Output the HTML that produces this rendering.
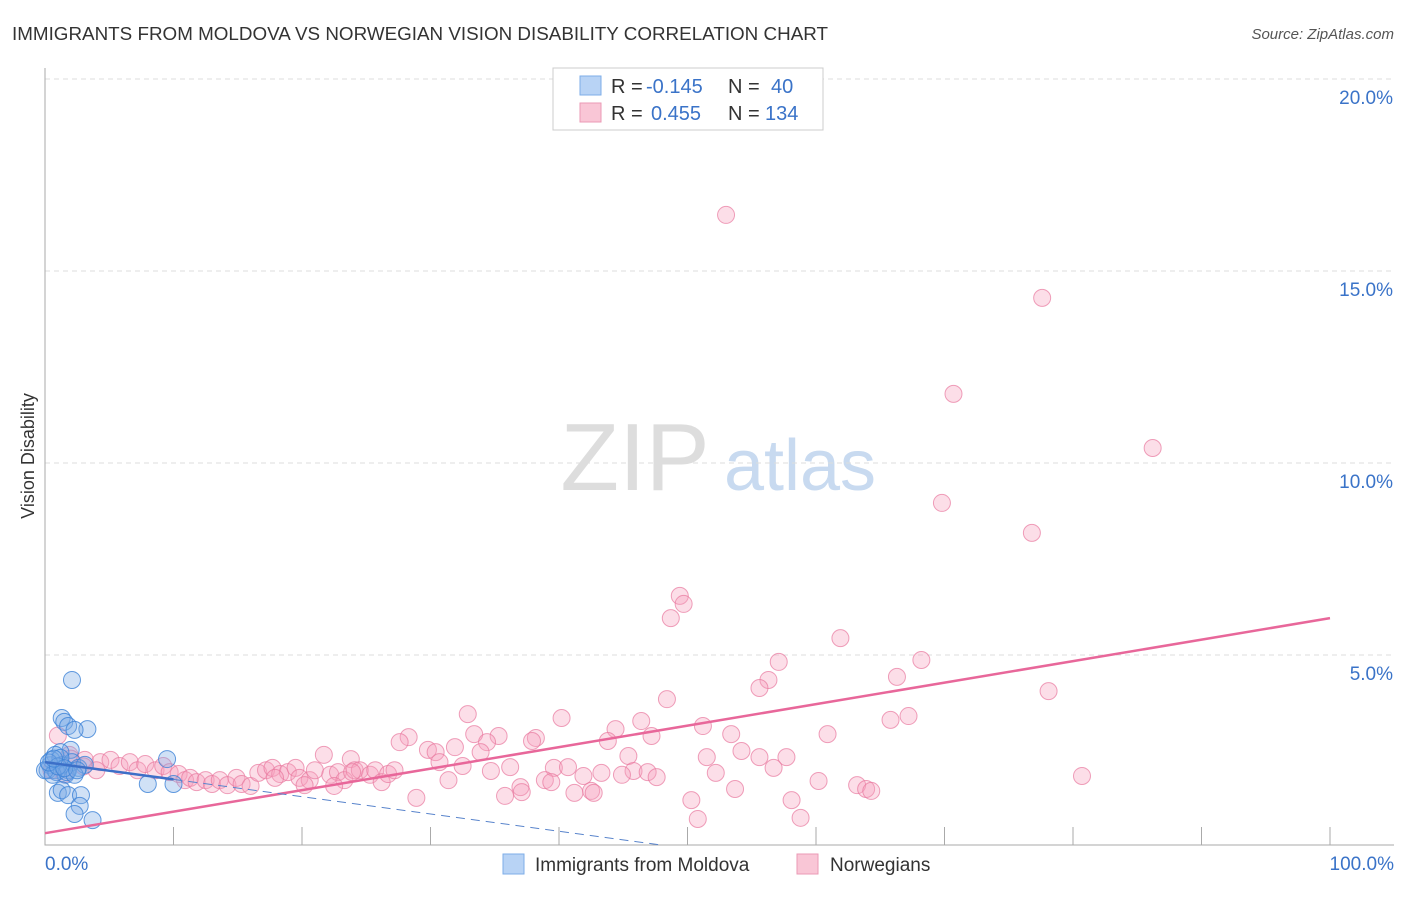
<!DOCTYPE html>
<html><head><meta charset="utf-8"><style>
body{margin:0;background:#fff;font-family:"Liberation Sans",sans-serif;}
svg text{font-family:"Liberation Sans",sans-serif;}
</style></head><body>
<svg id="chart" width="1406" height="892" xmlns="http://www.w3.org/2000/svg">
<text x="12" y="40" font-size="18" fill="#333" textLength="816" lengthAdjust="spacingAndGlyphs">IMMIGRANTS FROM MOLDOVA VS NORWEGIAN VISION DISABILITY CORRELATION CHART</text>
<text x="1394" y="39" font-size="15" fill="#555" font-style="italic" text-anchor="end">Source: ZipAtlas.com</text>
<text x="34" y="456" font-size="18" fill="#333" text-anchor="middle" transform="rotate(-90 34 456)">Vision Disability</text>
<g>
<text x="635" y="490" font-size="96" fill="#ddd" font-family="Liberation Serif" text-anchor="middle">ZIP</text>
<text x="800" y="490" font-size="72" fill="#c8daf0" text-anchor="middle">atlas</text>
</g>
<g id="grid"></g><g id="axes"></g><g id="pts"></g><g id="trend"></g>
<g>
<rect x="553" y="68" width="270" height="62" fill="#fff" stroke="#ccc"/>
<rect x="580" y="76" width="21" height="19" fill="#b8d3f5" stroke="#7eaee8"/>
<rect x="580" y="103" width="21" height="19" fill="#f9c6d6" stroke="#eb9ab5"/>
<text y="93" font-size="20"><tspan x="611" fill="#333">R = </tspan><tspan x="646" fill="#3a73c8">-0.145</tspan><tspan x="728" fill="#333">N = </tspan><tspan x="771" fill="#3a73c8">40</tspan></text>
<text y="120" font-size="20"><tspan x="611" fill="#333">R = </tspan><tspan x="651" fill="#3a73c8">0.455</tspan><tspan x="728" fill="#333">N = </tspan><tspan x="765" fill="#3a73c8">134</tspan></text>
</g>
<g>
<rect x="503" y="854" width="21" height="20" fill="#b8d3f5" stroke="#7eaee8"/>
<text x="535" y="871" font-size="19" fill="#333">Immigrants from Moldova</text>
<rect x="797" y="854" width="21" height="20" fill="#f9c6d6" stroke="#eb9ab5"/>
<text x="830" y="871" font-size="19" fill="#333">Norwegians</text>
</g>
</svg>
<script>
const yTicks=[5,10,15,20];
const yTickLabels=["5.0%","10.0%","15.0%","20.0%"];
const xTickLabels=["0.0%","100.0%"];
const pinkX=[53.0,77.6,70.7,86.2,69.8,76.8,49.4,49.7,48.7,61.9,68.2,57.1,56.3,55.6,66.3,78.1,48.4,67.2,65.8,32.9,40.2,46.4,51.2,44.4,28.3,33.4,35.3,38.2,43.8,47.2,53.4,60.9,27.6,34.4,37.9,29.8,30.4,31.9,54.2,45.4,51.5,55.6,57.7,21.7,23.8,30.7,32.5,33.9,36.2,39.6,40.7,43.3,45.8,46.9,52.2,56.7,34.7,41.9,44.9,47.6,80.7,60.2,63.2,63.9,64.3,38.9,39.4,37.0,41.2,42.5,42.7,53.7,35.8,37.1,28.9,50.3,58.1,50.8,58.8,31.4,1.9,3.1,4.3,5.1,5.8,6.6,7.2,7.8,8.6,9.2,9.7,10.4,10.9,11.3,11.8,12.5,13.0,13.6,14.2,14.9,15.3,16.0,16.6,17.2,17.7,18.3,18.9,19.5,19.8,20.6,21.0,22.2,22.8,23.3,24.1,24.5,25.3,25.7,26.2,26.7,27.2,22.5,20.2,17.9,23.9,1.0,2.0,0.5,3.0,4.0,1.5];
const pinkY=[16.46,14.30,11.80,10.39,8.96,8.18,6.54,6.33,5.96,5.44,4.87,4.82,4.35,4.14,4.43,4.06,3.85,3.41,3.31,3.46,3.36,3.28,3.15,3.07,2.86,2.94,2.89,2.84,2.76,2.89,2.94,2.94,2.73,2.73,2.76,2.53,2.47,2.60,2.50,2.37,2.34,2.34,2.34,2.40,2.29,2.21,2.11,2.47,2.08,2.06,2.08,1.93,1.98,1.95,1.93,2.06,1.98,1.85,1.88,1.82,1.85,1.72,1.61,1.51,1.46,1.74,1.69,1.56,1.41,1.46,1.41,1.51,1.33,1.43,1.28,1.22,1.22,0.73,0.76,1.74,2.40,2.27,2.21,2.27,2.11,2.21,2.00,2.16,2.00,2.11,1.95,1.90,1.74,1.80,1.69,1.74,1.64,1.74,1.61,1.80,1.64,1.59,1.93,2.00,2.06,1.90,1.95,2.06,1.80,1.74,2.00,1.88,1.95,1.74,2.00,2.00,1.88,2.00,1.69,1.90,2.00,1.59,1.61,1.80,1.95,2.90,2.30,2.00,2.10,2.00,1.90];
const blueX=[2.1,1.3,1.5,1.8,3.3,2.3,2.0,1.2,0.8,0.4,0.2,0.8,1.3,1.8,2.1,2.6,1.6,0.9,0.5,0.0,9.5,8.0,10.0,1.0,1.3,1.8,2.8,2.7,2.3,3.7,1.7,1.2,3.1,0.6,2.3,0.3,1.0,1.5,2.5,0.7];
const blueY=[4.35,3.36,3.26,3.15,3.07,3.05,2.53,2.47,2.40,2.13,2.00,2.00,2.13,2.00,2.21,2.06,1.88,1.95,2.27,2.00,2.29,1.64,1.64,1.41,1.48,1.35,1.35,1.07,0.86,0.70,1.95,2.32,2.14,1.88,1.88,2.20,2.10,2.05,2.00,2.30];
const pinkTrend=[0.36,5.96]; // y at x=0, x=100
const blueTrend=[2.21,-0.045]; // intercept, slope
const sx=v=>45+v*12.85, sy=v=>847-v*38.4;
const NS="http://www.w3.org/2000/svg";
function mk(t,a,p){const e=document.createElementNS(NS,t);for(const k in a)e.setAttribute(k,a[k]);p.appendChild(e);return e;}
const grid=document.getElementById('grid'),axes=document.getElementById('axes'),pts=document.getElementById('pts'),tr=document.getElementById('trend');
yTicks.forEach((t,i)=>{
 const l=mk('line',{x1:45,x2:1394,y1:sy(t),y2:sy(t),stroke:'#ddd','stroke-dasharray':'5,4'},grid);
 
 
 const tx=mk('text',{x:1393,y:sy(t)+25,'font-size':19,fill:'#3a73c8','text-anchor':'end'},axes);
 tx.textContent=yTickLabels[i];
 
 
});
const ax=mk('path',{d:'M45 68V845H1394',fill:'none',stroke:'#aaa'},axes);


for(let i=1;i<=10;i++){const t=mk('line',{x1:sx(i*10),x2:sx(i*10),y1:827,y2:845,stroke:'#aaa'},axes);
 
 }
[[0,'start',45],[100,'end',1394]].forEach((d,i)=>{const t=mk('text',{x:d[2],y:870,'font-size':19,fill:'#3a73c8','text-anchor':d[1]},axes);t.textContent=xTickLabels[i];
 
 });
pinkX.forEach((x,i)=>{const c=mk('circle',{cx:sx(x),cy:sy(pinkY[i]),r:8.5,fill:'rgba(246,160,190,0.35)',stroke:'rgba(232,120,158,0.7)','stroke-width':1},pts);
 
 });
blueX.forEach((x,i)=>{const c=mk('circle',{cx:sx(x),cy:sy(blueY[i]),r:8.5,fill:'rgba(120,170,230,0.35)',stroke:'rgba(60,130,215,0.8)','stroke-width':1},pts);
 
 });
const pl=mk('line',{x1:sx(0),y1:sy(pinkTrend[0]),x2:sx(100),y2:sy(pinkTrend[1]),stroke:'#e8679a','stroke-width':2.5},tr);


const bl=mk('line',{x1:sx(0),y1:sy(blueTrend[0]),x2:sx(10),y2:sy(blueTrend[0]+blueTrend[1]*10),stroke:'#3c6fc8','stroke-width':2.5},tr);


const yEnd=0.05;
const xe=(yEnd-blueTrend[0])/blueTrend[1];
const bd=mk('line',{x1:sx(10),y1:sy(blueTrend[0]+blueTrend[1]*10),x2:sx(xe),y2:sy(yEnd),stroke:'#5a85cc','stroke-width':1,'stroke-dasharray':'9,6'},tr);


</script>
</body></html>
